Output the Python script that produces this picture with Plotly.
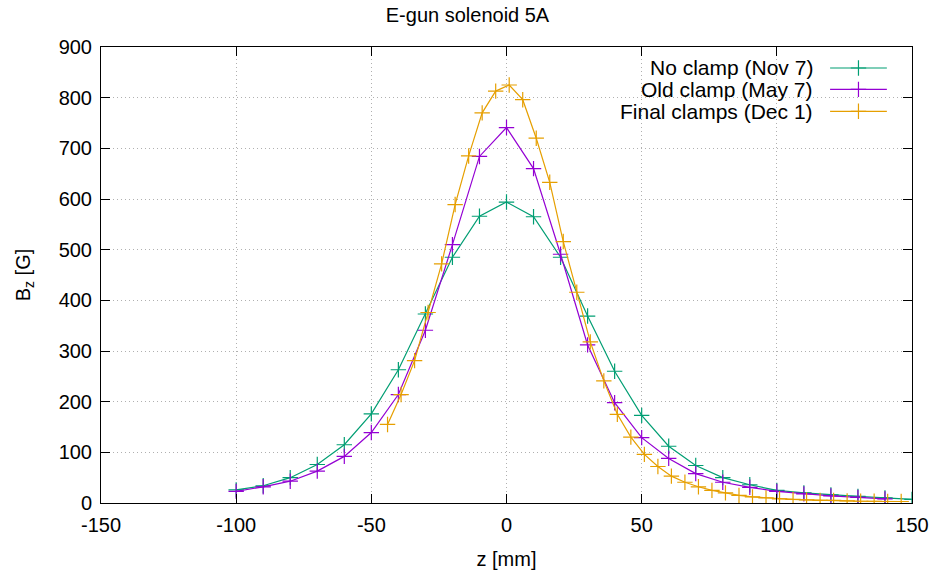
import plotly.graph_objects as go

# ---- data ----
series_names = ["No clamp (Nov 7)", "Old clamp (May 7)", "Final clamps (Dec 1)"]
series_colors = ["#009e73", "#9400d3", "#e69f00"]

z_noclamp = [-100, -90, -80, -70, -60, -50, -40, -30, -20, -10, 0, 10, 20, 30, 40, 50,
             60, 70, 80, 90, 100, 110, 120, 130, 140, 150]
b_noclamp = [26, 34, 50, 76, 115, 176, 263, 373, 485, 566, 594, 565, 485, 369, 260, 173,
             112, 74, 50, 36, 25, 20, 16, 13, 10, 7]

z_oldclamp = [-100, -90, -80, -70, -60, -50, -40, -30, -20, -10, 0, 10, 20, 30, 40, 50,
              60, 70, 80, 90, 100, 110, 120, 130, 140]
b_oldclamp = [23, 32, 43, 63, 92, 139, 214, 341, 510, 684, 741, 660, 491, 312, 198, 129,
              88, 58, 41, 31, 23, 18, 14, 11, 8]

z_final = [-44, -39, -34, -29, -24, -19, -14, -9, -4, 1, 6, 11, 16, 21, 26, 31, 36, 41,
           46, 51, 56, 61, 66, 71, 76, 81, 86, 91, 96, 101, 106, 111, 116, 121, 126, 131,
           136, 141, 146]
b_final = [155, 214, 281, 376, 472, 589, 685, 770, 813, 825, 796, 720, 633, 516, 416, 318,
           241, 175, 130, 96, 72, 53, 41, 32, 25, 20, 15, 12, 10, 8, 7, 6, 5, 5, 4, 3.5,
           3.5, 3, 3]

x_ticks = [-150, -100, -50, 0, 50, 100, 150]
y_ticks = [0, 100, 200, 300, 400, 500, 600, 700, 800, 900]

FONT = "Liberation Sans, Arial, Helvetica, sans-serif"

fig = go.Figure()
datasets = [(z_noclamp, b_noclamp), (z_oldclamp, b_oldclamp), (z_final, b_final)]
for (zs, bs), name, col in zip(datasets, series_names, series_colors):
    fig.add_trace(go.Scatter(
        x=zs, y=bs, mode="lines+markers", name=name,
        line=dict(color=col, width=1.2),
        marker=dict(symbol="cross-thin", size=11, line=dict(color=col, width=1.2)),
        showlegend=False,
    ))

# gnuplot-style key: text right-aligned, sample on the right (on a hidden overlay axis)
key_rows = [0.954, 0.907, 0.859]
for name, col, ky in zip(series_names, series_colors, key_rows):
    fig.add_trace(go.Scatter(
        x=[0.899, 0.969], y=[ky, ky], mode="lines", xaxis="x2", yaxis="y2",
        line=dict(color=col, width=1.2), showlegend=False, hoverinfo="skip"))
    fig.add_trace(go.Scatter(
        x=[0.934], y=[ky], mode="markers", xaxis="x2", yaxis="y2",
        marker=dict(symbol="cross-thin", size=11, line=dict(color=col, width=1.2)),
        showlegend=False, hoverinfo="skip"))
    fig.add_annotation(x=0.881, y=ky, xref="x2", yref="y2", text=name, showarrow=False,
                       xanchor="right", yanchor="middle",
                       font=dict(family=FONT, size=21, color="black"))

axis_common = dict(
    showline=True, linecolor="black", linewidth=1, mirror="ticks",
    ticks="inside", ticklen=9, tickcolor="black", tickwidth=1,
    showgrid=True, gridcolor="#b0b0b0", griddash="1px,3px", gridwidth=1,
    zeroline=False, tickfont=dict(family=FONT, size=20, color="black"),
    automargin=False,
)

fig.update_layout(
    width=935, height=573,
    margin=dict(l=101, r=23, t=47, b=70),
    paper_bgcolor="white", plot_bgcolor="white",
    title=dict(text="E-gun solenoid 5A", x=0.5, xanchor="center", y=0.973, yanchor="middle",
               font=dict(family=FONT, size=20, color="black")),
    xaxis=dict(range=[-150, 150], tickvals=x_ticks, ticktext=[str(v) for v in x_ticks],
               ticklabelstandoff=4,
               title=dict(text="z [mm]", font=dict(family=FONT, size=20, color="black"), standoff=16),
               **axis_common),
    yaxis=dict(range=[0, 900], tickvals=y_ticks, ticktext=[str(v) for v in y_ticks],
               ticklabelstandoff=4,
               title=dict(text="B<sub>z</sub> [G]", font=dict(family=FONT, size=20, color="black"), standoff=22),
               **axis_common),
    xaxis2=dict(overlaying="x", range=[0, 1], visible=False, fixedrange=True),
    yaxis2=dict(overlaying="y", range=[0, 1], visible=False, fixedrange=True),
    showlegend=False,
)

fig.write_html("out.html")
